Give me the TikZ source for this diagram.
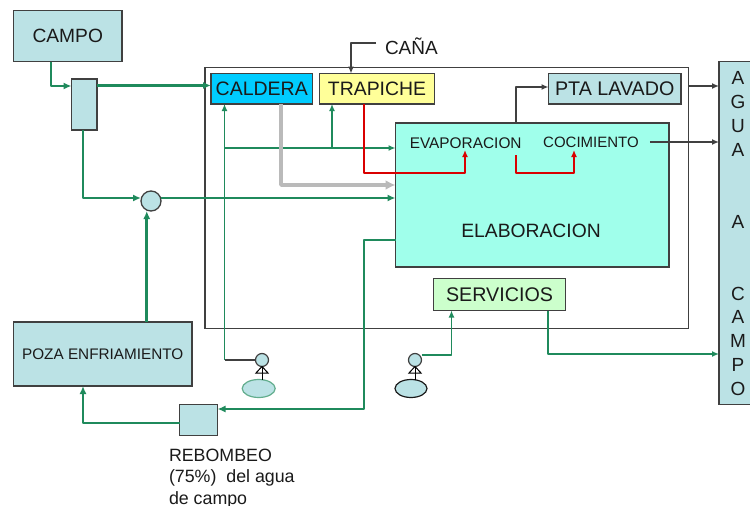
\documentclass[tikz,border=0pt]{standalone}
\usepackage{fontspec}
\setmainfont{Liberation Sans}
\usetikzlibrary{arrows.meta,shapes.geometric}
\definecolor{pale}{HTML}{BBE2E5}
\definecolor{cald}{HTML}{00CCFF}
\definecolor{trap}{HTML}{FFFF99}
\definecolor{elab}{HTML}{A0FFEB}
\definecolor{serv}{HTML}{CCFFCC}
\definecolor{gline}{HTML}{1F8A5C}
\definecolor{edge}{HTML}{404040}
\definecolor{ink}{HTML}{1A1A1A}
\newcommand{\fsz}[1]{\fontsize{#1}{#1}\selectfont}
\tikzset{
  boxn/.style={draw=edge,line width=1.4pt,fill=pale,inner sep=0pt,outer sep=0pt,text=ink,align=center},
  txt/.style={inner sep=0pt,outer sep=0pt,text=ink},
  gk/.style={draw=gline,line width=2.7pt,-{Latex[length=8pt,width=7pt]},line join=round},
  gn/.style={draw=gline,line width=1.4pt,-{Latex[length=7pt,width=6pt]},line join=round},
  rd/.style={draw=red!85!black,line width=1.3pt,-{Latex[length=7pt,width=6pt]},line join=round,color=red!85!black},
  bk/.style={draw=edge,line width=1.5pt,-{Latex[length=7pt,width=6pt]},line join=round},
  gy/.style={draw=black!27,line width=3.6pt,-{Latex[length=10pt,width=10pt]},line join=round},
  figl/.style={draw=black,line width=1pt},
}
\begin{document}
\begin{tikzpicture}[x=1pt,y=-1pt]
\useasboundingbox (0,0) rectangle (750,506);
\clip (0,0) rectangle (750,506);
\fill[white] (0,0) rectangle (750,506);
% frame
\node[draw=edge,line width=1.3pt,inner sep=0pt,outer sep=0pt,minimum width=483.5pt,minimum height=261pt] (frame) at (446.75,198) {};
% boxes
\node[boxn,minimum width=108.5pt,minimum height=51pt,font=\fsz{19.2}] (campo) at (67.75,36) {CAMPO};
\node[boxn,minimum width=25.5pt,minimum height=51pt] (tank) at (84.25,104.5) {};
\node[boxn,fill=cald,minimum width=101.5pt,minimum height=30.5pt,font=\fsz{19.5}] (caldera) at (261.75,88.75) {CALDERA};
\node[boxn,fill=trap,minimum width=115pt,minimum height=30.5pt,font=\fsz{19.4}] (trapiche) at (377,88.75) {TRAPICHE};
\node[boxn,minimum width=132.5pt,minimum height=30.5pt,font=\fsz{19.7}] (lavado) at (614.75,88.75) {PTA LAVADO};
\node[boxn,fill=elab,minimum width=273.5pt,minimum height=144pt] (elabo) at (532.25,195) {};
\node[txt,font=\fsz{19.3}] (elabt) at (531,231) {ELABORACION};
\node[txt,font=\fsz{15.4}] (evap) at (465.7,142.7) {EVAPORACION};
\node[txt,font=\fsz{15}] (coci) at (591,142.7) {COCIMIENTO};
\node[boxn,fill=serv,minimum width=132pt,minimum height=32pt,font=\fsz{19.7}] (servi) at (499.5,294.5) {SERVICIOS};
\node[boxn,minimum width=38pt,minimum height=342.5pt] (agua) at (738,233) {};
\node[txt,font=\fontsize{19}{23.95}\selectfont,align=center] (aguat) at (738,233.7) {A\\G\\U\\A\\[23.95pt]\\A\\[23.95pt]\\C\\A\\M\\P\\O};
\node[draw=edge,line width=1.3pt,fill=pale,circle,inner sep=0pt,outer sep=0pt,minimum size=20pt] (cruce) at (151,201) {};
\node[boxn,minimum width=178.5pt,minimum height=64pt,font=\fsz{15.3}] (poza) at (102.75,354) {POZA ENFRIAMIENTO};
\node[boxn,minimum width=38pt,minimum height=31pt] (rebo) at (198.5,420) {};
\node[txt,font=\fontsize{17.8}{21.5}\selectfont,align=left,anchor=west] (rebot) at (169,478.5) {REBOMBEO\\(75\%)\ \ del agua\\de campo};
\node[txt,font=\fsz{19},anchor=west] (cana) at (385,46) {CAÑA};
% persons
\node[draw=edge,line width=1.2pt,fill=pale,circle,inner sep=0pt,outer sep=0pt,minimum size=13pt] (head1) at (262,360) {};
\node[draw=gline!70,line width=1.2pt,fill=pale,ellipse,inner sep=0pt,outer sep=0pt,minimum width=33pt,minimum height=18pt] (feet1) at (258.7,388.5) {};
\node[draw=edge,line width=1.2pt,fill=pale,circle,inner sep=0pt,outer sep=0pt,minimum size=13pt] (head2) at (415,360) {};
\node[draw=ink,line width=1.2pt,fill=pale,ellipse,inner sep=0pt,outer sep=0pt,minimum width=32pt,minimum height=18pt] (feet2) at (411,388.5) {};
\draw[figl] (head1.south) -- ++(0,13.5);
\draw[figl] (head1.south) -- ++(-6,6.5) -- ++(12,0) -- cycle;
\draw[figl] (head2.south) -- ++(0,13.5);
\draw[figl] (head2.south) -- ++(-6,6.5) -- ++(12,0) -- cycle;
% thick green
\draw[gk] ([xshift=-16.75pt]campo.south) |- ([yshift=18.5pt]tank.west);
\draw[gk] ([yshift=19pt]tank.east) -- (caldera.west |- 0,85.5);
\draw[gk] ([xshift=-1.25pt]tank.south) |- ([yshift=3pt]cruce.west);
\draw[gk] ([yshift=3pt]cruce.east) -- ([yshift=-3pt]elabo.west);
\draw[gk] ([xshift=44pt]poza.north) -- ([xshift=44pt]poza.north |- cruce.south);
\coordinate (cRet) at (364,409);
\draw[gk] (elabo.west |- 0,240) -| (cRet) -- (rebo.east |- cRet);
\draw[gk] (rebo.west) ++(0,3) -| ([xshift=-19.75pt]poza.south);
% thin green
\coordinate (c1) at (224.5,360);
\coordinate (c2) at (224.5,148);
\coordinate (c3) at (332,148);
\draw[edge,line width=1.2pt] (head1.west) -- (c1);
\draw[gn] (c1) -- (c1 |- caldera.south);
\draw[gn] (c2) -- (c2 -| elabo.west);
\draw[gn] (c3) -- (c3 |- trapiche.south);
\draw[gn] (head2.east) ++(0,-5) -| ([xshift=-48pt]servi.south);
\draw[gn] ([xshift=48.5pt]servi.south) |- (agua.west |- 0,354);
% grey
\draw[gy] ([xshift=19.25pt]caldera.south) |- ([yshift=10pt]elabo.west);
% red
\draw[rd] ([xshift=-13pt]trapiche.south) |- (465,173) -- (465,150);
\draw[rd] (516,155) |- (574,173) -- (574,150);
% black
\draw[bk] ([xshift=-16.25pt]elabo.north) |- (lavado.west |- 0,87);
\draw[bk] (frame.east |- 0,86) -- (agua.west |- 0,86);
\draw[bk] ([xshift=11pt]coci.east |- 0,142) -- (agua.west |- 0,142);
\draw[bk] ([xshift=-9pt]cana.west |- 0,43) -| ([xshift=-26pt]trapiche.north);
\end{tikzpicture}
\end{document}
